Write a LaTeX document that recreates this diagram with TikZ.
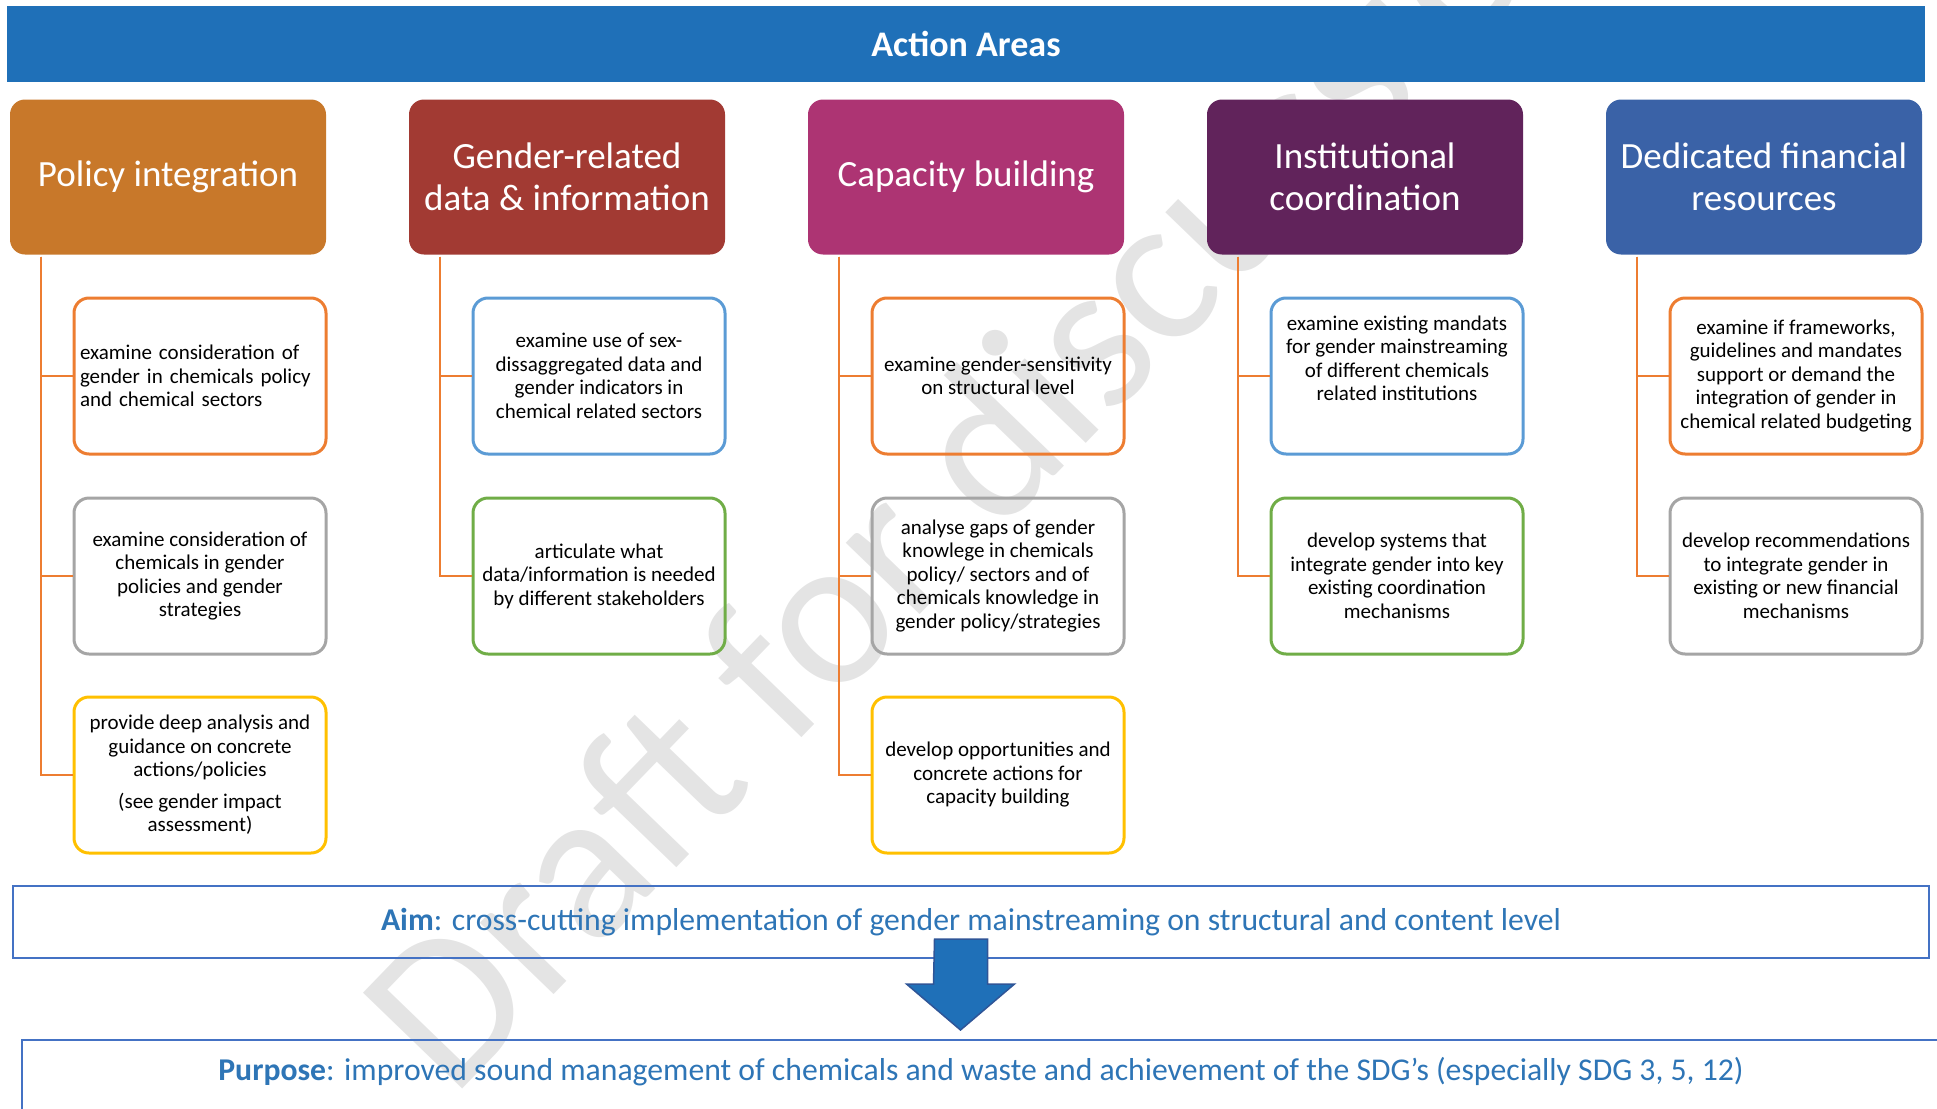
\documentclass[tikz,border=0pt]{standalone}
\usepackage{fontspec}
\setmainfont{Carlito}
\definecolor{bannerblue}{HTML}{1F70B8}
\definecolor{polcol}{HTML}{C8782A}
\definecolor{datcol}{HTML}{A23A33}
\definecolor{capcol}{HTML}{AD3473}
\definecolor{inscol}{HTML}{61235B}
\definecolor{fincol}{HTML}{3A62A7}
\definecolor{lineorange}{HTML}{ED7D31}
\definecolor{boxblue}{HTML}{5B9BD5}
\definecolor{boxgray}{HTML}{A5A5A5}
\definecolor{boxgreen}{HTML}{70AD47}
\definecolor{boxyellow}{HTML}{FFC000}
\definecolor{aimblue}{HTML}{4472C4}
\definecolor{textblue}{HTML}{2E75B6}
\definecolor{arrowedge}{HTML}{2F5597}
\definecolor{wmgray}{HTML}{E4E4E4}

\begin{document}
\begin{tikzpicture}[x=1pt,y=-1pt,
	area/.style={rounded corners=15pt,minimum width=316pt,minimum height=155pt,text=white,align=center,font=\fontsize{37}{42}\selectfont},
	task/.style={draw,rounded corners=15pt,line width=3pt,minimum width=252pt,minimum height=156pt,align=center,font=\fontsize{21}{23.5}\selectfont},
	branch/.style={draw=lineorange,line width=2.5pt},
	goal/.style={text=textblue,font=\fontsize{31.7}{36}\selectfont},
	]
	\useasboundingbox (0,0) rectangle (1937,1108);
	\clip (0,0) rectangle (1937,1108);
	% Watermark
	\node[text=wmgray,rotate=46,font=\fontsize{215}{215}\selectfont] (wm) at (982,445) {Draft for discussion};
	% Banner
	\node[fill=bannerblue,minimum width=1918pt,minimum height=75pt,text=white,font=\fontsize{36}{40}\selectfont\bfseries] (banner) at (966,44) {Action Areas};
	% Action areas
	\node[area,fill=polcol] (pol) at (168,177) {Policy integration};
	\node[area,fill=datcol] (dat) at (567,177) {Gender-related\\data \& information};
	\node[area,fill=capcol] (cap) at (966,177) {Capacity building};
	\node[area,fill=inscol] (ins) at (1365,177) {Institutional\\coordination};
	\node[area,fill=fincol] (fin) at (1764,177) {Dedicated financial\\resources};
	% Tasks
	\node[task,draw=lineorange,align=left,text width=240pt] (pol1) at (200,376) {examine consideration of\\gender in chemicals policy\\and chemical sectors};
	\node[task,draw=boxgray] (pol2) at (200,576) {examine consideration of\\chemicals in gender\\policies and gender\\strategies};
	\node[task,draw=boxyellow] (pol3) at (200,775) {provide deep analysis and\\guidance on concrete\\actions/policies\\[8pt](see gender impact\\assessment)};
	\node[task,draw=boxblue] (dat1) at (599,376) {examine use of sex-\\dissaggregated data and\\gender indicators in\\chemical related sectors};
	\node[task,draw=boxgreen] (dat2) at (599,576) {articulate what\\data/information is needed\\by different stakeholders};
	\node[task,draw=lineorange] (cap1) at (998,376) {examine gender-sensitivity\\on structural level};
	\node[task,draw=boxgray] (cap2) at (998,576) {analyse gaps of gender\\knowlege in chemicals\\policy/ sectors and of\\chemicals knowledge in\\gender policy/strategies};
	\node[task,draw=boxyellow] (cap3) at (998,775) {develop opportunities and\\concrete actions for\\capacity building};
	\node[task,draw=boxblue] (ins1) at (1397,376) {examine existing mandats\\for gender mainstreaming\\of different chemicals\\related institutions\\[12pt]\mbox{}};
	\node[task,draw=boxgreen] (ins2) at (1397,576) {develop systems that\\integrate gender into key\\existing coordination\\mechanisms};
	\node[task,draw=lineorange] (fin1) at (1796,376) {examine if frameworks,\\guidelines and mandates\\support or demand the\\integration of gender in\\chemical related budgeting};
	\node[task,draw=boxgray] (fin2) at (1796,576) {develop recommendations\\to integrate gender in\\existing or new financial\\mechanisms};
	% Edges
	\draw[branch] ([xshift=31pt,yshift=-2pt]pol.south west) |- (pol1.west);
	\draw[branch] ([xshift=31pt,yshift=-2pt]pol.south west) |- (pol2.west);
	\draw[branch] ([xshift=31pt,yshift=-2pt]pol.south west) |- (pol3.west);
	\draw[branch] ([xshift=31pt,yshift=-2pt]dat.south west) |- (dat1.west);
	\draw[branch] ([xshift=31pt,yshift=-2pt]dat.south west) |- (dat2.west);
	\draw[branch] ([xshift=31pt,yshift=-2pt]cap.south west) |- (cap1.west);
	\draw[branch] ([xshift=31pt,yshift=-2pt]cap.south west) |- (cap2.west);
	\draw[branch] ([xshift=31pt,yshift=-2pt]cap.south west) |- (cap3.west);
	\draw[branch] ([xshift=31pt,yshift=-2pt]ins.south west) |- (ins1.west);
	\draw[branch] ([xshift=31pt,yshift=-2pt]ins.south west) |- (ins2.west);
	\draw[branch] ([xshift=31pt,yshift=-2pt]fin.south west) |- (fin1.west);
	\draw[branch] ([xshift=31pt,yshift=-2pt]fin.south west) |- (fin2.west);
	% Aim and purpose
	\node[goal,draw=aimblue,line width=2.5pt,minimum width=1916pt,minimum height=72pt] (aim) at (971,922) {\textbf{Aim}: cross-cutting implementation of gender mainstreaming on structural and content level};
	\coordinate (arr) at (961,939);
	\draw[fill=bannerblue,draw=arrowedge,line width=1.5pt] (arr) ++(-26.5,0) -- ++(53,0) -- ++(0,45) -- ++(27,0) -- ++(-54,46) -- ++(-54,-46) -- ++(27,0) -- cycle;
	\node[goal] (purpose) at (981,1072) {\textbf{Purpose}: improved sound management of chemicals and waste and achievement of the SDG’s (especially SDG 3, 5, 12)};
	\draw[draw=aimblue,line width=2.5pt] (1980,1040) -| (22,1140);
\end{tikzpicture}
\end{document}
